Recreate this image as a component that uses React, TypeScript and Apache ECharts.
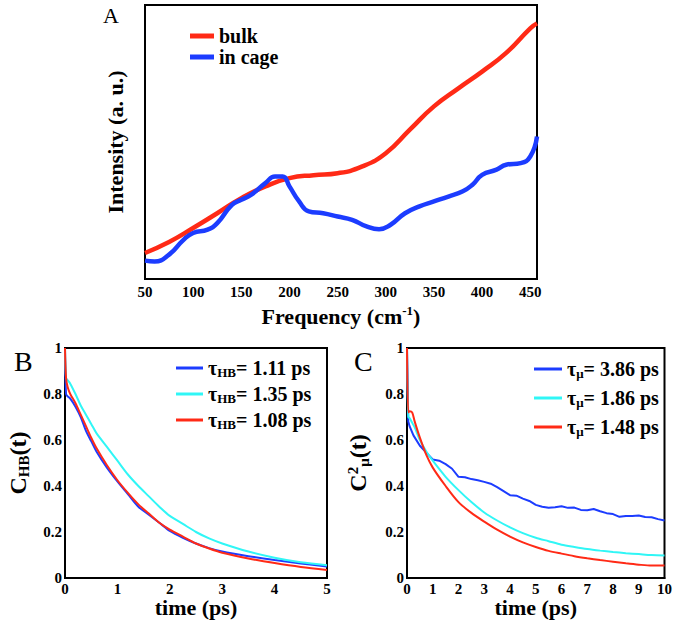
import React, { useEffect, useRef } from 'react';
import * as echarts from 'echarts';

const SERIF = 'Liberation Serif';

// Panel A
const freqBulk = [50, 75, 100, 125, 150, 175, 200, 225, 250, 275, 300, 325, 350, 375, 400, 425, 450, 457];
const bulkIntensity = [9.5, 13.5, 18.6, 24, 29.5, 33.8, 36.8, 37.9, 38.6, 41, 45.9, 54.5, 63, 69.5, 75.7, 82.5, 91.5, 93.3];
const freqCage = [50, 60, 75, 90, 100, 115, 125, 140, 150, 160, 175, 185, 193, 200, 210, 220, 235, 250, 265, 280, 293, 305, 320, 335, 350, 365, 380, 390, 400, 415, 425, 440, 450, 457];
const cageIntensity = [6.7, 6.4, 8.9, 14.3, 16.8, 18, 20.4, 27, 28.9, 30.7, 35, 37.4, 37.4, 33.8, 28.3, 24.7, 24, 22.8, 21.6, 19.2, 18.2, 19.8, 24, 26.5, 28.3, 30.1, 32, 34.4, 38, 39.9, 41.7, 42.3, 44.7, 52];

// Panel B
const timeB = [0, 0.02, 0.05, 0.1, 0.2, 0.3, 0.4, 0.5, 0.6, 0.8, 1.0, 1.2, 1.4, 1.6, 1.8, 2.0, 2.25, 2.5, 2.75, 3.0, 3.5, 4.0, 4.5, 5.0];
const hbBlue = [1.0, 0.80, 0.79, 0.78, 0.745, 0.70, 0.64, 0.595, 0.55, 0.48, 0.42, 0.365, 0.31, 0.275, 0.24, 0.205, 0.175, 0.15, 0.13, 0.115, 0.095, 0.078, 0.063, 0.05];
const hbCyan = [1.0, 0.87, 0.86, 0.845, 0.80, 0.75, 0.71, 0.67, 0.63, 0.57, 0.51, 0.45, 0.40, 0.355, 0.31, 0.27, 0.235, 0.20, 0.172, 0.15, 0.115, 0.088, 0.068, 0.055];
const hbRed = [1.0, 0.87, 0.83, 0.80, 0.76, 0.71, 0.66, 0.61, 0.565, 0.49, 0.425, 0.37, 0.32, 0.28, 0.24, 0.21, 0.18, 0.15, 0.128, 0.11, 0.085, 0.065, 0.048, 0.035];
const tauHB = ['1.11', '1.35', '1.08'];

// Panel C
const timeCBlue = [0, 0.05, 0.1, 0.25, 0.5, 0.75, 1.0, 1.25, 1.5, 1.75, 2.0, 2.25, 2.5, 2.75, 3.0, 3.25, 3.5, 3.75, 4.0, 4.25, 4.5, 4.75, 5.0, 5.25, 5.5, 5.75, 6.0, 6.25, 6.5, 6.75, 7.0, 7.25, 7.5, 7.75, 8.0, 8.25, 8.5, 8.75, 9.0, 9.25, 9.5, 9.75, 10];
const muBlue = [1.0, 0.68, 0.66, 0.62, 0.575, 0.545, 0.515, 0.51, 0.495, 0.475, 0.44, 0.438, 0.43, 0.425, 0.418, 0.41, 0.395, 0.378, 0.36, 0.358, 0.345, 0.335, 0.318, 0.31, 0.305, 0.308, 0.312, 0.305, 0.306, 0.296, 0.295, 0.3, 0.29, 0.282, 0.278, 0.266, 0.27, 0.27, 0.272, 0.265, 0.264, 0.256, 0.25];
const timeC = [0, 0.05, 0.1, 0.2, 0.3, 0.5, 0.75, 1, 1.5, 2, 2.5, 3, 3.5, 4, 4.5, 5, 5.5, 6, 6.5, 7, 7.5, 8, 8.5, 9, 9.5, 10];
const muCyan = [1.0, 0.70, 0.695, 0.675, 0.655, 0.60, 0.55, 0.51, 0.44, 0.382, 0.33, 0.285, 0.25, 0.22, 0.195, 0.175, 0.16, 0.145, 0.135, 0.126, 0.119, 0.113, 0.108, 0.104, 0.1, 0.098];
const muRed = [1.0, 0.72, 0.725, 0.72, 0.68, 0.61, 0.535, 0.48, 0.40, 0.33, 0.283, 0.245, 0.21, 0.18, 0.155, 0.135, 0.118, 0.106, 0.095, 0.086, 0.078, 0.071, 0.064, 0.058, 0.054, 0.054];
const tauMu = ['3.86', '1.86', '1.48'];

const RED = '#ff2a16';
const BLUE = '#1c3cff';
const CYAN = '#30f6f6';

const zip = (xs: number[], ys: number[]) => xs.map((x, i) => [x, ys[i]]);

const B = 'bold' as const;
const tickLabel = { fontFamily: SERIF, fontWeight: B, fontSize: 15, color: '#000' };
const richBase = {
  m: { fontFamily: SERIF, fontWeight: B, fontSize: 22, color: '#000', lineHeight: 24 },
  s: { fontFamily: SERIF, fontWeight: B, fontSize: 13, color: '#000', lineHeight: 14, verticalAlign: 'bottom' as const },
  p: { fontFamily: SERIF, fontWeight: B, fontSize: 13, color: '#000', lineHeight: 14, verticalAlign: 'top' as const },
};
const richYName = {
  m: { fontFamily: SERIF, fontWeight: B, fontSize: 24, color: '#000', lineHeight: 26 },
  s: { fontFamily: SERIF, fontWeight: B, fontSize: 15, color: '#000', lineHeight: 15, verticalAlign: 'bottom' as const },
  p: { fontFamily: SERIF, fontWeight: B, fontSize: 15, color: '#000', lineHeight: 15, verticalAlign: 'top' as const },
};
const legendRich = {
  t: { fontFamily: SERIF, fontWeight: B, fontSize: 20, color: '#000', lineHeight: 22 },
  s: { fontFamily: SERIF, fontWeight: B, fontSize: 13, color: '#000', lineHeight: 12, verticalAlign: 'bottom' as const },
};

const gridStyle = { show: true, borderColor: '#000', borderWidth: 2, backgroundColor: 'transparent' };
const axisCommon = {
  axisTick: { show: false },
  splitLine: { show: false },
  axisLine: { show: true, lineStyle: { color: '#000', width: 2 } },
};

function lineSeries(name: string, xi: number, data: number[][], color: string, width: number, smooth: boolean | number) {
  return {
    name,
    type: 'line',
    xAxisIndex: xi,
    yAxisIndex: xi,
    data,
    smooth,
    showSymbol: false,
    symbol: 'none',
    color,
    lineStyle: { color, width },
  };
}

export default function App() {
  const ref = useRef<HTMLDivElement>(null);
  useEffect(() => {
    const chart = echarts.init(ref.current!, null, { renderer: 'svg' });
    const option: any = {
      animation: false,
      backgroundColor: '#fff',
      textStyle: { fontFamily: SERIF },
      grid: [
        { left: 145, top: 5, width: 392, height: 274, ...gridStyle },
        { left: 65, top: 348, width: 262, height: 230, ...gridStyle },
        { left: 407, top: 348, width: 260, height: 230, ...gridStyle },
      ],
      xAxis: [
        {
          gridIndex: 0, type: 'value', min: 50, max: 457, interval: 50, ...axisCommon,
          axisLabel: { ...tickLabel, margin: 5, showMaxLabel: false },
          name: '{m|Frequency (cm}{p|-1}{m|)}', nameLocation: 'middle', nameGap: 25,
          nameTextStyle: { fontFamily: SERIF, rich: richBase },
        },
        {
          gridIndex: 1, type: 'value', min: 0, max: 5, interval: 1, ...axisCommon,
          axisLabel: { ...tickLabel, margin: 3 },
          name: '{m|time (ps)}', nameLocation: 'middle', nameGap: 12,
          nameTextStyle: { fontFamily: SERIF, rich: richBase },
        },
        {
          gridIndex: 2, type: 'value', min: 0, max: 10, interval: 1, ...axisCommon,
          axisLabel: { ...tickLabel, margin: 3 },
          name: '{m|time (ps)}', nameLocation: 'middle', nameGap: 12,
          nameTextStyle: { fontFamily: SERIF, rich: richBase },
        },
      ],
      yAxis: [
        {
          gridIndex: 0, type: 'value', min: 0, max: 100, ...axisCommon,
          axisLabel: { show: false },
          name: '{m|Intensity (a. u.)}', nameLocation: 'middle', nameGap: 18,
          nameTextStyle: { fontFamily: SERIF, rich: richBase },
        },
        {
          gridIndex: 1, type: 'value', min: 0, max: 1, interval: 0.2, ...axisCommon,
          axisLabel: { ...tickLabel, margin: 3 },
          name: '{m|C}{s|HB}{m|(t)}', nameLocation: 'middle', nameGap: 34,
          nameTextStyle: { fontFamily: SERIF, rich: richYName },
        },
        {
          gridIndex: 2, type: 'value', min: 0, max: 1, interval: 0.2, ...axisCommon,
          axisLabel: { ...tickLabel, margin: 3 },
          name: '{m|C}{p|2}{s|μ}{m|(t)}', nameLocation: 'middle', nameGap: 36,
          nameTextStyle: { fontFamily: SERIF, rich: richYName },
        },
      ],
      legend: [
        {
          left: 190, top: 26, padding: 0, orient: 'vertical', icon: 'rect', itemWidth: 24, itemHeight: 5, itemGap: 1,
          data: ['bulk', 'in cage'],
          textStyle: { fontFamily: SERIF, fontWeight: 'bold', fontSize: 20, color: '#000', lineHeight: 20 },
        },
        {
          left: 176, top: 358, padding: 0, orient: 'vertical', icon: 'rect', itemWidth: 27, itemHeight: 3, itemGap: 5,
          data: ['hb1', 'hb2', 'hb3'],
          formatter: (n: string) => `{t|τ}{s|HB}{t|= ${tauHB[Number(n.slice(2)) - 1]} ps}`,
          textStyle: { fontFamily: SERIF, rich: legendRich },
        },
        {
          left: 534, top: 359, padding: 0, orient: 'vertical', icon: 'rect', itemWidth: 28, itemHeight: 3, itemGap: 8,
          data: ['mu1', 'mu2', 'mu3'],
          formatter: (n: string) => `{t|τ}{s|μ}{t|= ${tauMu[Number(n.slice(2)) - 1]} ps}`,
          textStyle: { fontFamily: SERIF, rich: legendRich },
        },
      ],
      graphic: [
        { type: 'text', left: 103, top: 4, style: { text: 'A', fontFamily: SERIF, fontSize: 22, fill: '#000' } },
        { type: 'text', left: 14, top: 347, style: { text: 'B', fontFamily: SERIF, fontSize: 28, fill: '#000' } },
        { type: 'text', left: 354, top: 347, style: { text: 'C', fontFamily: SERIF, fontSize: 28, fill: '#000' } },
      ],
      series: [
        lineSeries('bulk', 0, zip(freqBulk, bulkIntensity), RED, 4.5, true),
        lineSeries('in cage', 0, zip(freqCage, cageIntensity), BLUE, 4.5, true),
        lineSeries('hb1', 1, zip(timeB, hbBlue), BLUE, 2, 0.3),
        lineSeries('hb2', 1, zip(timeB, hbCyan), CYAN, 2, 0.3),
        lineSeries('hb3', 1, zip(timeB, hbRed), RED, 2, 0.3),
        lineSeries('mu1', 2, zip(timeCBlue, muBlue), BLUE, 2, false),
        lineSeries('mu2', 2, zip(timeC, muCyan), CYAN, 2, 0.3),
        lineSeries('mu3', 2, zip(timeC, muRed), RED, 2, 0.3),
      ],
    };
    chart.setOption(option);
    return () => chart.dispose();
  }, []);
  return <div ref={ref} style={{ position: 'fixed', left: 0, top: 0, width: 675, height: 622, background: '#fff' }} />;
}
